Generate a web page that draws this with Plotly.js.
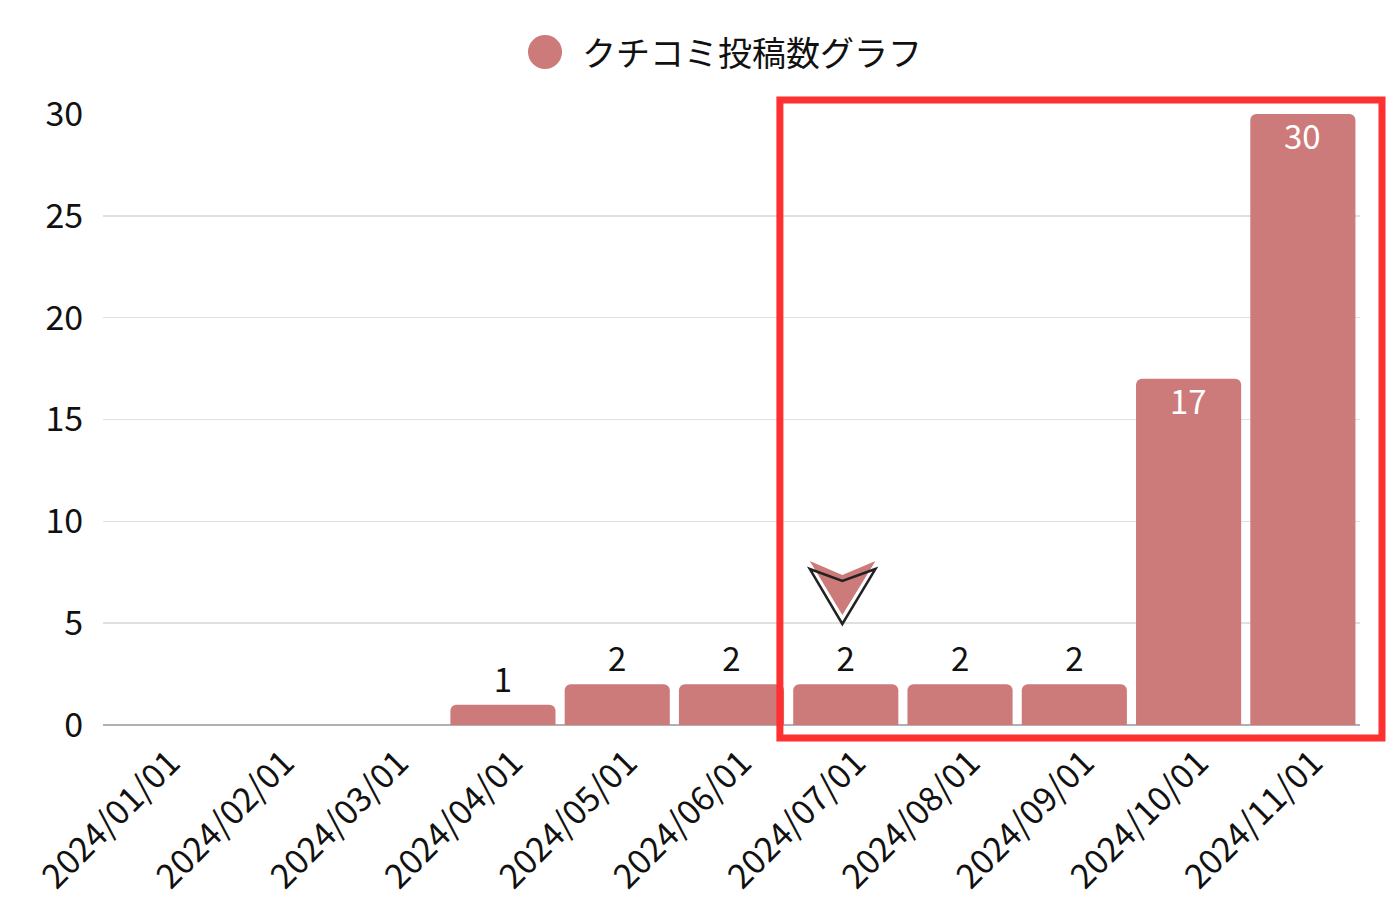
<!DOCTYPE html>
<html>
<head>
<meta charset="utf-8">
<script src="https://cdn.plot.ly/plotly-3.0.1.min.js"></script>
<style>
  html, body { margin:0; padding:0; background:#fff; }
  #chartdiv { width:1400px; height:920px; }
</style>
</head>
<body>
<div id="chartdiv"></div>
<script>
// data
const seriesName = 'クチコミ投稿数グラフ';
const months = ['2024/01/01','2024/02/01','2024/03/01','2024/04/01','2024/05/01','2024/06/01',
                '2024/07/01','2024/08/01','2024/09/01','2024/10/01','2024/11/01'];
const counts = [0, 0, 0, 1, 2, 2, 2, 2, 2, 17, 30];
const insideFrom = 10; // values this big get their label inside the bar

const barColor = '#cd7a7a';
const font = '"Noto Sans CJK JP", "Noto Sans", sans-serif';

const bars = {
  type: 'bar',
  x: months,
  y: counts,
  // small bars keep a label on top, tall ones get a white label as annotation below
  text: counts.map(v => (v && v < insideFrom) ? String(v) : ''),
  textposition: 'outside',
  textangle: 0,
  cliponaxis: false,
  textfont: {family: font, size: 33, color: '#111111'},
  marker: {color: barColor, cornerradius: 6},
  showlegend: false,
  hoverinfo: 'x+y'
};

const insideLabels = [];
counts.forEach((v, i) => {
  if (v >= insideFrom) {
    insideLabels.push({xref:'x', yref:'y', x: months[i], y: v, yanchor:'top', yshift:5,
      text: String(v), showarrow:false, font:{size:33, color:'#ffffff'}});
  }
});

// plot area: x 103..1360, y 114..725 (pixels)
const layout = {
  width: 1400, height: 920,
  margin: {l:103, r:40, t:114, b:195},
  paper_bgcolor: '#fff',
  plot_bgcolor: '#fff',
  bargap: 0.08,
  font: {family: font, color: '#111'},
  showlegend: false,
  xaxis: {
    type: 'category',
    tickangle: -45,
    tickfont: {size: 34, color: '#111'},
    showgrid: false,
    showline: false,
    ticks: 'outside',
    ticklen: 3,
    tickcolor: 'rgba(0,0,0,0)',
    ticklabelshift: 10
  },
  yaxis: {
    range: [0, 30],
    dtick: 5,
    tickfont: {size: 34, color: '#111'},
    showgrid: true,
    gridcolor: '#e0e0e0',
    gridwidth: 1.5,
    zeroline: true,
    zerolinecolor: '#b0b0b0',
    zerolinewidth: 1.5,
    ticks: 'outside',
    ticklen: 12,
    tickcolor: 'rgba(0,0,0,0)'
  },
  shapes: [
    // legend dot
    {type:'circle', xref:'paper', yref:'paper', x0:0.3381, x1:0.3652, y0:1.0737, y1:1.1293,
     fillcolor: barColor, line:{width:0}},
    // highlight frame
    {type:'rect', xref:'paper', yref:'paper', x0:0.5385, x1:1.0175, y0:-0.0213, y1:1.0229,
     line:{color:'#ff3030', width:7}, fillcolor:'rgba(0,0,0,0)'},
    // pointer arrow (filled part)
    {type:'path', xref:'x', yref:'y', layer:'above',
     path:'M 5.685 8.05 L 5.97 7.36 L 6.26 8.05 L 5.97 5.4 Z',
     fillcolor: barColor, line:{width:0}},
    // pointer arrow (outline)
    {type:'path', xref:'x', yref:'y', layer:'above',
     path:'M 5.685 7.66 L 5.97 7.07 L 6.26 7.66 L 5.97 4.96 Z',
     fillcolor:'rgba(0,0,0,0)', line:{color:'#222', width:2.5}}
  ],
  annotations: [
    {xref:'paper', yref:'paper', x:0.3795, y:1.1015, xanchor:'left', yanchor:'middle',
     text: seriesName, showarrow:false, font:{size:34, color:'#111'}}
  ].concat(insideLabels)
};

Plotly.newPlot('chartdiv', [bars], layout, {displayModeBar:false, staticPlot:true});
</script>
</body>
</html>
